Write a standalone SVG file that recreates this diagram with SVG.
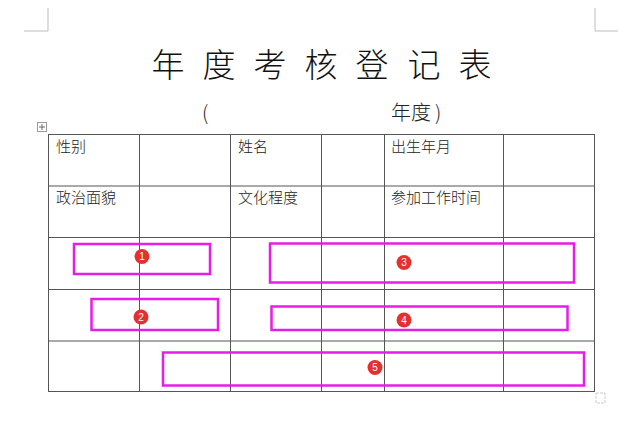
<svg xmlns="http://www.w3.org/2000/svg" width="640" height="422" viewBox="0 0 640 422">
<style>
.cjk{font-family:"Noto Sans CJK SC","Noto Sans",sans-serif;fill:#222}
.title{font-size:33px;font-weight:300;fill:#111}
.sub{font-size:20px;font-weight:300}
.cell{font-size:15px;font-weight:300}
.grid{stroke:#555;stroke-width:1;fill:none}
.mark{stroke:#bdbdbd;stroke-width:1;fill:none}
.hl{stroke:#e81ce8;stroke-width:2.5;fill:none}
.badge circle{fill:#e53030}
.badge text{font-family:"Liberation Sans",Arial,sans-serif;font-size:10px;fill:#fff;text-anchor:middle}
</style>
<rect width="640" height="422" fill="#fff"/>
<g id="page-marks">
<path class="mark" d="M24 31H48V8M618 31H595V8"/>
<rect x="596" y="393" width="9" height="10" fill="none" stroke="#ccc" stroke-width="1" stroke-dasharray="3 1"/>
</g>
<g id="title">
<text class="cjk title" y="77" text-anchor="middle"><tspan x="168">年</tspan><tspan x="219">度</tspan><tspan x="270">考</tspan><tspan x="321">核</tspan><tspan x="372">登</tspan><tspan x="424">记</tspan><tspan x="475">表</tspan></text>
</g>
<g id="subtitle">
<text class="cjk sub" x="202" y="120">(</text>
<text class="cjk sub" x="391" y="120">年度<tspan dx="4">)</tspan></text>
</g>
<g id="move-handle">
<rect x="37.5" y="122.5" width="9" height="9" fill="#fff" stroke="#999" stroke-width="1"/>
<path d="M42 124V130M39 127H45" stroke="#666" stroke-width="1"/>
</g>
<g id="table">
<rect class="grid" x="48.5" y="134.5" width="546" height="257"/>
<path class="grid" d="M48 186H595M48 237.5H595M48 289.5H595M48 341H595M139.5 134V392M230.5 134V392M321.5 134V392M384.5 134V392M503.5 134V392"/>
<text class="cjk cell" x="56" y="152">性别</text>
<text class="cjk cell" x="238" y="152">姓名</text>
<text class="cjk cell" x="391" y="152">出生年月</text>
<text class="cjk cell" x="56" y="203">政治面貌</text>
<text class="cjk cell" x="238" y="203">文化程度</text>
<text class="cjk cell" x="391" y="203">参加工作时间</text>
</g>
<g id="highlight-1">
<rect class="hl" x="74" y="244" width="136" height="30"/>
<g class="badge"><circle cx="142" cy="256.5" r="7.5"/><text x="142" y="260">1</text></g>
</g>
<g id="highlight-2">
<rect class="hl" x="91.5" y="299" width="126.5" height="31"/>
<g class="badge"><circle cx="141" cy="317" r="7.5"/><text x="141" y="320.5">2</text></g>
</g>
<g id="highlight-3">
<rect class="hl" x="270" y="243.5" width="304" height="39"/>
<g class="badge"><circle cx="404" cy="262.5" r="7.5"/><text x="404" y="266">3</text></g>
</g>
<g id="highlight-4">
<rect class="hl" x="271.5" y="306.5" width="296" height="23.5"/>
<g class="badge"><circle cx="404" cy="320" r="7.5"/><text x="404" y="323.5">4</text></g>
</g>
<g id="highlight-5">
<rect class="hl" x="163" y="352.5" width="421" height="33"/>
<g class="badge"><circle cx="375" cy="367.5" r="7.5"/><text x="375" y="371">5</text></g>
</g>
</svg>
